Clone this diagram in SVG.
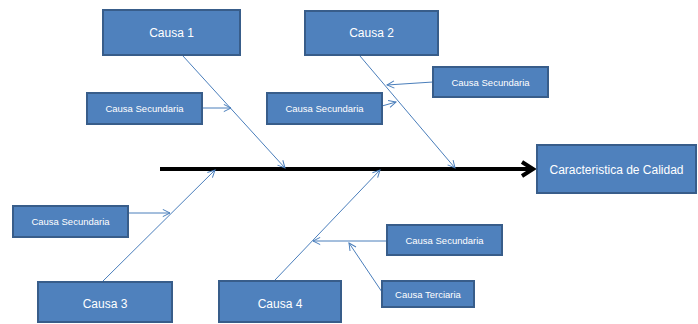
<svg xmlns="http://www.w3.org/2000/svg" width="698" height="324" viewBox="0 0 698 324">
  <style>
    .box { fill: #4F81BD; stroke: #385D8A; stroke-width: 2; }
    .lbl { fill: #FFFFFF; font-family: "Liberation Sans", Arial, sans-serif; text-anchor: middle; dominant-baseline: central; }
    .big { font-size: 12px; }
    .small { font-size: 9.5px; }
    .bone { stroke: #4A7EBB; stroke-width: 1; fill: none; marker-end: url(#open); }
    .spine { stroke: #000000; stroke-width: 4; fill: none; }
  </style>
  <defs>
    <marker id="open" viewBox="0 0 10 10" refX="9" refY="5" markerWidth="9" markerHeight="9" markerUnits="userSpaceOnUse" orient="auto">
      <path d="M1,1 L9,5 L1,9" fill="none" stroke="#4A7EBB" stroke-width="1.1"/>
    </marker>
  </defs>
  <rect width="698" height="324" fill="#FFFFFF"/>

  <g id="connectors">
    <!-- main spine -->
    <line class="spine" x1="160" y1="169" x2="531" y2="169"/>
    <path d="M522,162 L533,169 L522,176" fill="none" stroke="#000000" stroke-width="4"/>
    <!-- primary causes -->
    <line class="bone" x1="183" y1="56" x2="285" y2="168"/>
    <line class="bone" x1="360" y1="56" x2="455" y2="168"/>
    <line class="bone" x1="103" y1="281" x2="215" y2="170"/>
    <line class="bone" x1="275" y1="280" x2="380" y2="170"/>
    <!-- secondary causes -->
    <line class="bone" x1="202" y1="108" x2="231" y2="108"/>
    <line class="bone" x1="382" y1="106" x2="396" y2="102"/>
    <line class="bone" x1="433" y1="82" x2="387" y2="85"/>
    <line class="bone" x1="128" y1="213" x2="170" y2="213"/>
    <line class="bone" x1="387" y1="241" x2="313" y2="241"/>
    <!-- tertiary cause -->
    <line class="bone" x1="382" y1="292" x2="349" y2="243"/>
  </g>

  <g id="causa1">
    <rect class="box" x="103" y="10" width="137" height="45"/>
    <text class="lbl big" x="171.5" y="32.5">Causa 1</text>
  </g>
  <g id="causa2">
    <rect class="box" x="305" y="11" width="133" height="44"/>
    <text class="lbl big" x="371.5" y="33">Causa 2</text>
  </g>
  <g id="causa3">
    <rect class="box" x="38" y="282" width="134" height="40"/>
    <text class="lbl big" x="105" y="304">Causa 3</text>
  </g>
  <g id="causa4">
    <rect class="box" x="219" y="281" width="122" height="41"/>
    <text class="lbl big" x="280" y="304">Causa 4</text>
  </g>
  <g id="efecto">
    <rect class="box" x="537" y="145" width="159" height="48"/>
    <text class="lbl big" x="616.5" y="170">Caracteristica de Calidad</text>
  </g>
  <g id="sec1">
    <rect class="box" x="87" y="93" width="115" height="31"/>
    <text class="lbl small" x="144.5" y="108.5">Causa Secundaria</text>
  </g>
  <g id="sec2">
    <rect class="box" x="267" y="93" width="115" height="31"/>
    <text class="lbl small" x="324.5" y="108.5">Causa Secundaria</text>
  </g>
  <g id="sec3">
    <rect class="box" x="433" y="67" width="115" height="30"/>
    <text class="lbl small" x="490.5" y="82">Causa Secundaria</text>
  </g>
  <g id="sec4">
    <rect class="box" x="13" y="206" width="115" height="31"/>
    <text class="lbl small" x="70.5" y="221.5">Causa Secundaria</text>
  </g>
  <g id="sec5">
    <rect class="box" x="387" y="225" width="115" height="30"/>
    <text class="lbl small" x="444.5" y="240">Causa Secundaria</text>
  </g>
  <g id="terc1">
    <rect class="box" x="382" y="281" width="92" height="26"/>
    <text class="lbl small" x="428" y="294">Causa Terciaria</text>
  </g>
</svg>
